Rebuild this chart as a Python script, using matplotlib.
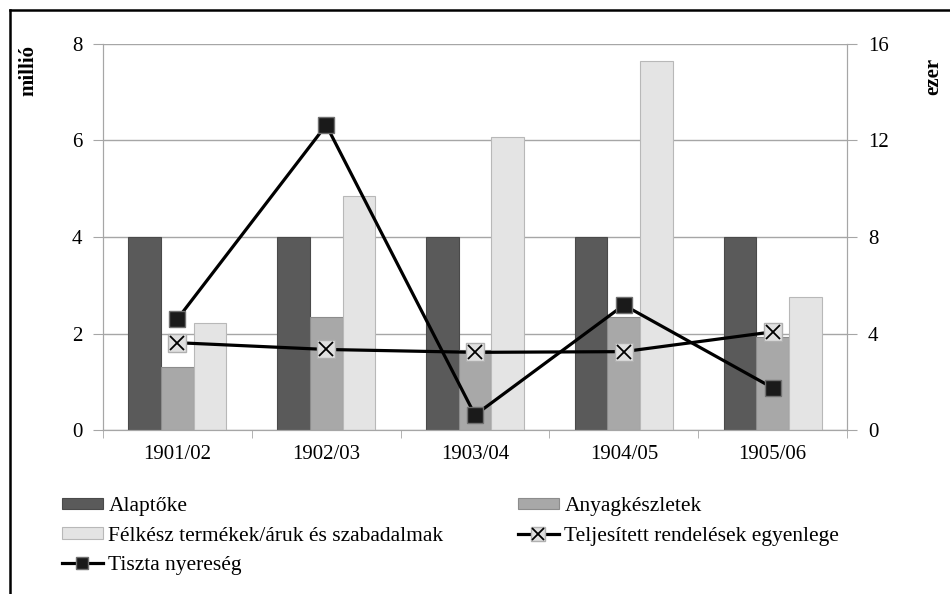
import matplotlib.pyplot as plt
import numpy as np
from matplotlib.lines import Line2D

plt.rcParams['font.family'] = ['Liberation Serif', 'DejaVu Serif']

years = ["1901/02", "1902/03", "1903/04", "1904/05", "1905/06"]

# left axis, millió
alaptoke = [4.0, 4.0, 4.0, 4.0, 4.0]
anyag = [1.3, 2.35, 1.65, 2.35, 1.93]
felkesz = [2.22, 4.85, 6.07, 7.65, 2.75]

# right axis, ezer
teljesitett = [3.62, 3.34, 3.22, 3.25, 4.07]
nyereseg = [4.6, 12.64, 0.62, 5.18, 1.75]

fig = plt.figure(figsize=(9.5, 5.94), dpi=100)
ax1 = fig.add_axes([0.1084, 0.276, 0.7832, 0.65])
ax2 = ax1.twinx()

x = np.arange(len(years))
w = 0.22
grid_c = '#a6a6a6'
fs = 15

b1 = ax1.bar(x - w, alaptoke, w, color='#5a5a5a', edgecolor='#4a4a4a', linewidth=0.8,
             label='Alaptőke', zorder=2)
b2 = ax1.bar(x, anyag, w, color='#a8a8a8', edgecolor='#8c8c8c', linewidth=0.8,
             label='Anyagkészletek', zorder=2)
b3 = ax1.bar(x + w, felkesz, w, color='#e4e4e4', edgecolor='#b8b8b8', linewidth=0.8,
             label='Félkész termékek/áruk és szabadalmak', zorder=2)

ax1.set_ylim(0, 8)
ax1.set_yticks([0, 2, 4, 6, 8])
ax1.set_xlim(-0.5, 4.5)
ax1.set_xticks(x)
ax1.set_xticklabels(years)
ax1.set_xticks(np.arange(-0.5, 5, 1), minor=True)
ax1.tick_params(axis='x', which='major', length=0, pad=11, labelsize=fs)
ax1.tick_params(axis='x', which='minor', length=6, color=grid_c)
ax1.tick_params(axis='y', length=7, color=grid_c, labelsize=fs, pad=8)
ax1.yaxis.grid(True, color=grid_c, linewidth=1, zorder=0)
ax1.set_axisbelow(True)

ax2.set_ylim(0, 16)
ax2.set_yticks([0, 4, 8, 12, 16])
ax2.tick_params(axis='y', length=7, color=grid_c, labelsize=fs, pad=8)

for a in (ax1, ax2):
    a.spines['top'].set_visible(False)
    for s in ('left', 'right', 'bottom'):
        a.spines[s].set_color(grid_c)

ax2.plot(x, teljesitett, color='black', linewidth=2.3, zorder=3)
ax2.plot(x, teljesitett, linestyle='none', marker='s', markersize=13,
         markerfacecolor='#e0e0e0', markeredgecolor='#b0b0b0', zorder=4)
ax2.plot(x, teljesitett, linestyle='none', marker='x', markersize=10,
         markeredgecolor='black', markeredgewidth=1.3, zorder=5)
ax2.plot(x, nyereseg, color='black', linewidth=2.3, marker='s', markersize=11,
         markerfacecolor='#1a1a1a', markeredgecolor='#707070', zorder=6)

fig.text(0.03, 1 - 70 / 594, 'millió', rotation=90, fontweight='bold', fontsize=15,
         ha='center', va='center')
fig.text(0.982, 1 - 76 / 594, 'ezer', rotation=90, fontweight='bold', fontsize=15,
         ha='center', va='center')

h_telj = (Line2D([], [], color='black', linewidth=2.3),
          Line2D([], [], linestyle='none', marker='s', markersize=10,
                 markerfacecolor='#e0e0e0', markeredgecolor='#b0b0b0'),
          Line2D([], [], linestyle='none', marker='x', markersize=8,
                 markeredgecolor='black', markeredgewidth=1.3))
h_nyer = Line2D([], [], color='black', linewidth=2.3, marker='s', markersize=9,
                markerfacecolor='#1a1a1a', markeredgecolor='#707070')

leg_kw = dict(loc='upper left', frameon=False, fontsize=15.5, handlelength=1.9,
              handleheight=0.45, handletextpad=0.25, labelspacing=0.49,
              borderpad=0, borderaxespad=0)
fig.legend([b1, b3, h_nyer],
           ['Alaptőke', 'Félkész termékek/áruk és szabadalmak', 'Tiszta nyereség'],
           bbox_to_anchor=(62 / 950, 1 - 497 / 594), **leg_kw)
fig.legend([b2, h_telj],
           ['Anyagkészletek', 'Teljesített rendelések egyenlege'],
           bbox_to_anchor=(518 / 950, 1 - 497 / 594), **leg_kw)

# outer frame (top and left edges visible)
fig.add_artist(Line2D([10 / 950, 1], [1 - 10 / 594, 1 - 10 / 594], color='black',
                      linewidth=1.8, transform=fig.transFigure))
fig.add_artist(Line2D([10 / 950, 10 / 950], [0, 1 - 10 / 594], color='black',
                      linewidth=1.8, transform=fig.transFigure))

fig.savefig('out.png', dpi=100)
